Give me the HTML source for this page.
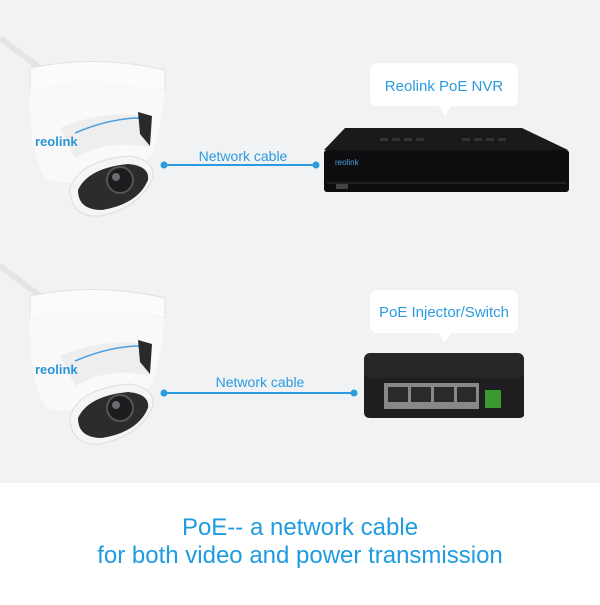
<!DOCTYPE html>
<html><head><style>
body{margin:0;width:600px;height:600px;overflow:hidden;font-family:"Liberation Sans",sans-serif;background:#fff}
</style></head><body>
<svg width="600" height="600" xmlns="http://www.w3.org/2000/svg" font-family="Liberation Sans, sans-serif">
<rect width="600" height="483" fill="#f1f2f4"/>
<defs>
<g id="cam">
<path d="M0 0 L40 30" stroke="#e4e4e4" stroke-width="6"/>
<path d="M30 30 Q95 16 165 32 L165 52 Q95 40 30 52 Z" fill="#fbfbfb" stroke="#e2e2e2"/>
<path d="M30 50 Q95 38 165 52 Q160 100 150 120 L110 140 Q60 150 45 140 Q28 110 30 50Z" fill="#f9f9f9"/>
<path d="M60 90 Q100 72 150 78 L150 110 Q110 100 75 120 Z" fill="#eeeeee"/>
<path d="M75 95 Q110 80 140 80" stroke="#4a9ee0" stroke-width="1.5" fill="none"/>
<path d="M138 74 L152 78 L150 108 L140 96Z" fill="#2a2a2a"/>
<text x="35" y="108" font-size="13" font-weight="bold" fill="#2b95d9">reolink</text>
<path d="M70 150 Q80 122 130 118 Q155 122 153 140 Q140 170 100 178 Q70 180 70 150Z" fill="#f5f5f5" stroke="#ddd"/>
<path d="M78 152 Q88 130 128 126 Q150 128 148 142 Q138 166 102 172 Q78 172 78 152Z" fill="#2c2c2e"/>
<circle cx="120" cy="142" r="13" fill="#1c1c1e" stroke="#555" stroke-width="2"/>
<circle cx="116" cy="139" r="4" fill="#6a6a70"/>
</g>
</defs>
<use href="#cam" x="0" y="38"/>
<use href="#cam" x="0" y="266"/>
<!-- lines -->
<line x1="164" y1="165" x2="316" y2="165" stroke="#2b9be0" stroke-width="2"/>
<circle cx="164" cy="165" r="3.5" fill="#2b9be0"/><circle cx="316" cy="165" r="3.5" fill="#2b9be0"/>
<text x="243" y="161" font-size="14" fill="#2b9be0" text-anchor="middle">Network cable</text>
<line x1="164" y1="393" x2="354" y2="393" stroke="#2b9be0" stroke-width="2"/>
<circle cx="164" cy="393" r="3.5" fill="#2b9be0"/><circle cx="354" cy="393" r="3.5" fill="#2b9be0"/>
<text x="260" y="387" font-size="14" fill="#2b9be0" text-anchor="middle">Network cable</text>
<!-- NVR bubble -->
<rect x="370" y="63" width="148" height="43" rx="7" fill="#fff"/>
<path d="M438 105 L445 116 L452 105Z" fill="#fff"/>
<text x="444" y="91" font-size="15" fill="#2b9be0" text-anchor="middle">Reolink PoE NVR</text>
<!-- NVR -->
<path d="M345 128 L522 128 L568 150 L324 150Z" fill="#1a1a1c"/>
<rect x="324" y="150" width="245" height="42" rx="3" fill="#0e0e10"/>
<line x1="327" y1="183" x2="566" y2="183" stroke="#333" />
<text x="335" y="165" font-size="8" fill="#4a9ee0">reolink</text>
<g fill="#333"><rect x="380" y="138" width="8" height="3"/><rect x="392" y="138" width="8" height="3"/><rect x="404" y="138" width="8" height="3"/><rect x="416" y="138" width="8" height="3"/>
<rect x="462" y="138" width="8" height="3"/><rect x="474" y="138" width="8" height="3"/><rect x="486" y="138" width="8" height="3"/><rect x="498" y="138" width="8" height="3"/></g>
<rect x="336" y="184" width="12" height="5" fill="#444"/>
<!-- switch bubble -->
<rect x="370" y="290" width="148" height="43" rx="7" fill="#fff"/>
<path d="M438 332 L445 343 L452 332Z" fill="#fff"/>
<text x="444" y="317" font-size="15" fill="#2b9be0" text-anchor="middle">PoE Injector/Switch</text>
<!-- switch -->
<path d="M372 353 L518 353 Q524 354 524 362 L524 415 Q524 418 518 418 L370 418 Q364 418 364 412 L364 362 Q365 354 372 353Z" fill="#1e1e20"/>
<rect x="364" y="353" width="160" height="25" rx="6" fill="#262628"/>
<rect x="384" y="383" width="95" height="26" fill="#888"/>
<g fill="#2a2a2c"><rect x="388" y="387" width="20" height="15"/><rect x="411" y="387" width="20" height="15"/><rect x="434" y="387" width="20" height="15"/><rect x="457" y="387" width="19" height="15"/></g>
<rect x="485" y="390" width="16" height="18" fill="#3a9a30"/>
<text x="300" y="535" font-size="24" fill="#1f9be0" text-anchor="middle">PoE-- a network cable</text>
<text x="300" y="563" font-size="24" fill="#1f9be0" text-anchor="middle">for both video and power transmission</text>
</svg>
</body></html>
